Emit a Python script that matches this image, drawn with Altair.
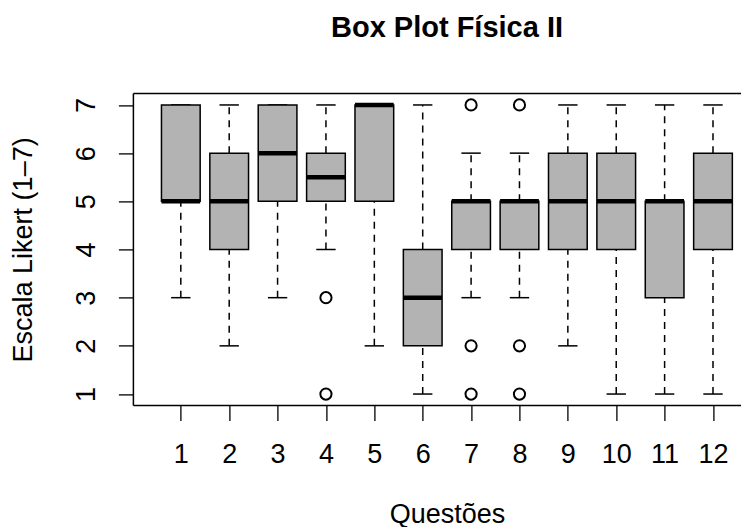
import altair as alt
import pandas as pd

# ---- data ----
questions = [1, 2, 3, 4, 5, 6, 7, 8, 9, 10, 11, 12]
lower_whisker = [3, 2, 3, 4, 2, 1, 3, 3, 2, 1, 1, 1]
q1 = [5, 4, 5, 5, 5, 2, 4, 4, 4, 4, 3, 4]
median = [5, 5, 6, 5.5, 7, 3, 5, 5, 5, 5, 5, 5]
q3 = [7, 6, 7, 6, 7, 4, 5, 5, 6, 6, 5, 6]
upper_whisker = [7, 7, 7, 7, 7, 7, 6, 6, 7, 7, 7, 7]
outlier_question = [4, 4, 7, 7, 7, 8, 8, 8]
outlier_value = [3, 1, 7, 2, 1, 7, 2, 1]
y_ticks = [1, 2, 3, 4, 5, 6, 7]
title_text = ["Box Plot Física II"]

df = pd.DataFrame({
    "q": questions, "lo": lower_whisker, "q1": q1, "med": median,
    "q3": q3, "hi": upper_whisker,
})
out_df = pd.DataFrame({"q": outlier_question, "v": outlier_value})

FONT = "Liberation Sans"
FS = 27
PX_PER_Q = 48.38
W = 607.6   # visible part of the plot area (its right edge is cut off in the reference)
H = 312.2

xscale = alt.Scale(domain=[0.02, 0.02 + W / PX_PER_Q], nice=False, zero=False)
yscale = alt.Scale(domain=[0.76, 7.24], nice=False, zero=False)

x_axis = alt.Axis(values=questions, format="d", tickSize=15, tickColor="black",
                  tickWidth=1.3, labelFontSize=FS, labelFont=FONT, labelColor="black",
                  labelBaseline="alphabetic", labelPadding=42, labelFlush=False,
                  labelOverlap=False, domain=False, grid=False,
                  title="Questões", titleFont=FONT, titleFontSize=FS,
                  titleFontWeight="normal", titleColor="black",
                  titleBaseline="alphabetic", titleAlign="center",
                  titleX=313.6, titleY=116.5)
y_axis = alt.Axis(values=y_ticks, format="d", tickSize=15, tickColor="black",
                  tickWidth=1.3, labelFontSize=FS, labelFont=FONT, labelColor="black",
                  labelAngle=270, labelAlign="center", labelBaseline="alphabetic",
                  labelPadding=23.4, labelFlush=False, labelOverlap=False,
                  domain=False, grid=False,
                  title="Escala Likert (1–7)", titleFont=FONT, titleFontSize=FS,
                  titleFontWeight="normal", titleColor="black", titleAngle=270,
                  titleBaseline="alphabetic", titleAlign="center",
                  titleX=-101.4, titleY=156)

base = alt.Chart(df).transform_calculate(
    bl="datum.q - 0.4", br="datum.q + 0.4",
    cl="datum.q - 0.2", cr="datum.q + 0.2",
)

whisk_hi = base.mark_rule(color="black", strokeWidth=1.5, strokeDash=[7, 6]).encode(
    x=alt.X("q:Q", scale=xscale, axis=x_axis),
    y=alt.Y("q3:Q", scale=yscale, axis=y_axis),
    y2="hi:Q",
)
whisk_lo = base.mark_rule(color="black", strokeWidth=1.5, strokeDash=[7, 6]).encode(
    x=alt.X("q:Q", scale=xscale, axis=x_axis),
    y=alt.Y("lo:Q", scale=yscale, axis=y_axis),
    y2="q1:Q",
)
cap_hi = base.mark_rule(color="black", strokeWidth=1.5).encode(
    x=alt.X("cl:Q", scale=xscale, axis=x_axis), x2="cr:Q",
    y=alt.Y("hi:Q", scale=yscale, axis=y_axis),
)
cap_lo = base.mark_rule(color="black", strokeWidth=1.5).encode(
    x=alt.X("cl:Q", scale=xscale, axis=x_axis), x2="cr:Q",
    y=alt.Y("lo:Q", scale=yscale, axis=y_axis),
)
box = base.mark_rect(fill="#b3b3b3", stroke="black", strokeWidth=1.5).encode(
    x=alt.X("bl:Q", scale=xscale, axis=x_axis), x2="br:Q",
    y=alt.Y("q1:Q", scale=yscale, axis=y_axis), y2="q3:Q",
)
med = base.mark_rule(color="black", strokeWidth=4.5, strokeCap="butt").encode(
    x=alt.X("bl:Q", scale=xscale, axis=x_axis), x2="br:Q",
    y=alt.Y("med:Q", scale=yscale, axis=y_axis),
)
outl = alt.Chart(out_df).mark_point(shape="circle", size=125, filled=False,
                                    stroke="black", strokeWidth=2, opacity=1).encode(
    x=alt.X("q:Q", scale=xscale, axis=x_axis),
    y=alt.Y("v:Q", scale=yscale, axis=y_axis),
)

# plot frame (top, bottom, left; the right side lies beyond the picture)
frame_src = alt.Chart(pd.DataFrame({"b": [0]}))
frame_top = frame_src.mark_rule(color="black", strokeWidth=1.5).encode(
    x=alt.value(0), x2=alt.value(W + 8), y=alt.value(0))
frame_bot = frame_src.mark_rule(color="black", strokeWidth=1.5).encode(
    x=alt.value(0), x2=alt.value(W + 8), y=alt.value(H))
frame_left = frame_src.mark_rule(color="black", strokeWidth=1.5).encode(
    x=alt.value(0), y=alt.value(0), y2=alt.value(H))

# main title, centred over the full (uncut) plot area
title = alt.Chart(pd.DataFrame({"t": title_text})).mark_text(
    font=FONT, fontSize=29, fontWeight="bold", color="black",
    align="center", baseline="alphabetic").encode(
    text="t:N", x=alt.value(313.6), y=alt.value(-56.4))

chart = alt.layer(whisk_hi, whisk_lo, cap_hi, cap_lo, box, med, outl,
                  frame_top, frame_bot, frame_left, title).properties(
    width=W,
    height=H,
    background="white",
    autosize=alt.AutoSizeParams(type="none"),
    padding={"left": 125.4, "top": 85.4, "right": 0, "bottom": 121.4},
).configure_view(stroke=None)

chart.save("out.html", embed_options={"renderer": "svg", "actions": False})
